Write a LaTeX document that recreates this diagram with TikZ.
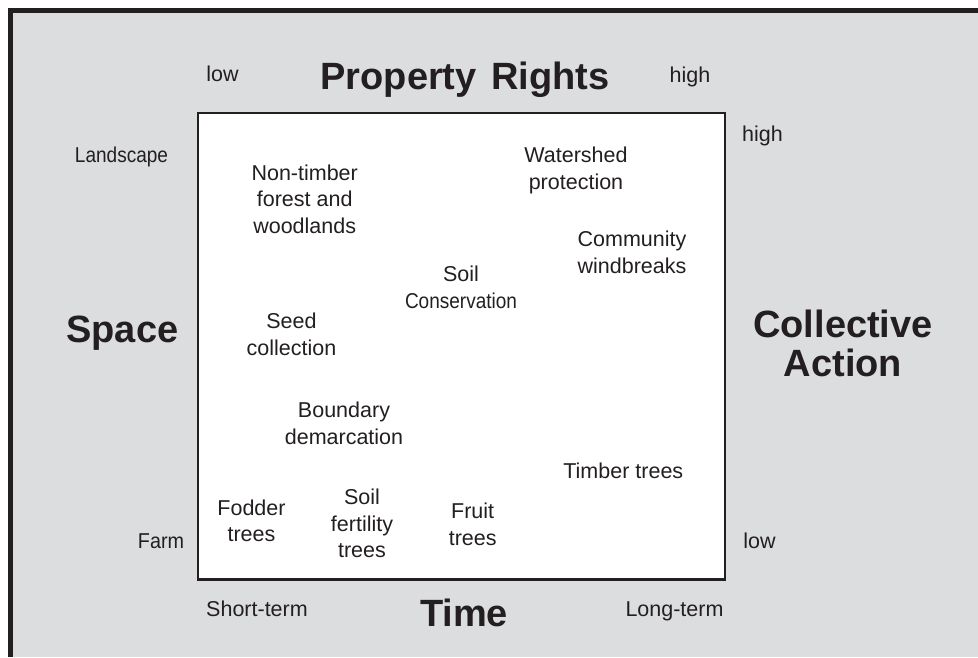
\documentclass[tikz,border=0pt]{standalone}
\usepackage{fontspec}
\usepackage{graphicx}
\setmainfont{Liberation Sans}
\definecolor{ink}{RGB}{35,31,32}
\definecolor{panel}{RGB}{220,221,223}
\newcommand{\narrow}[2]{\scalebox{#1}[1]{#2}}
\begin{document}
% multi-line labels are placed by the baseline of their last line
\begin{tikzpicture}[x=1pt,y=-1pt,
  lbl/.style={text=ink, inner sep=0pt, anchor=base, align=center,
    font=\fontsize{21.5}{26.5}\selectfont},
  axis/.style={text=ink, inner sep=0pt, anchor=base, align=center,
    font=\fontsize{38}{38.7}\selectfont\bfseries}]
\useasboundingbox (0,0) rectangle (978,657);
% grey panel with its heavy top and left edge
\fill[panel] (10,11) rectangle (978,657);
\draw[ink, line width=5pt] (10,657) -- (10,10.8) -- (978,10.8);
% central field
\node[draw=ink, fill=white, line width=2.5pt, inner sep=0pt,
  minimum width=527pt, minimum height=466.5pt] (field) at (461.5,346.25) {};

% axis titles
\node[axis] (rights) at (465,89) {Property\hspace{4pt} Rights};
\node[axis] (space) at (122.3,342.7) {Space};
\node[axis] (collective) at (843,376) {Collective\\Action};
\node[axis] (time) at (464,626) {Time};

% axis end labels
\node[lbl] (rlow) at (222.5,81.7) {low};
\node[lbl] (rhigh) at (690,82) {high};
\node[lbl] (chigh) at (762.5,141) {high};
\node[lbl] (clow) at (759.5,548.3) {low};
\node[lbl] (landscape) at (121.5,162.5) {\narrow{0.885}{Landscape}};
\node[lbl] (farm) at (161,548.3) {\narrow{0.92}{Farm}};
\node[lbl] (short) at (257,616) {Short-term};
\node[lbl] (long) at (674.5,616) {Long-term};

% practices inside the field
\node[lbl] (nontimber) at (304.7,233.3) {Non-timber\\forest and\\woodlands};
\node[lbl] (watershed) at (576,189.3) {Watershed\\protection};
\node[lbl] (windbreaks) at (632,273) {Community\\windbreaks};
\node[lbl] (soilcons) at (461,308) {Soil\\\narrow{0.884}{Conservation}};
\node[lbl] (seed) at (291.5,355) {Seed\\collection};
\node[lbl] (boundary) at (344,444) {Boundary\\demarcation};
\node[lbl] (timber) at (623.3,478) {Timber trees};
\node[lbl] (fodder) at (251.5,541.7) {Fodder\\trees};
\node[lbl] (fertility) at (362,557.7) {Soil\\fertility\\trees};
\node[lbl] (fruit) at (472.7,545) {Fruit\\trees};
\end{tikzpicture}
\end{document}
